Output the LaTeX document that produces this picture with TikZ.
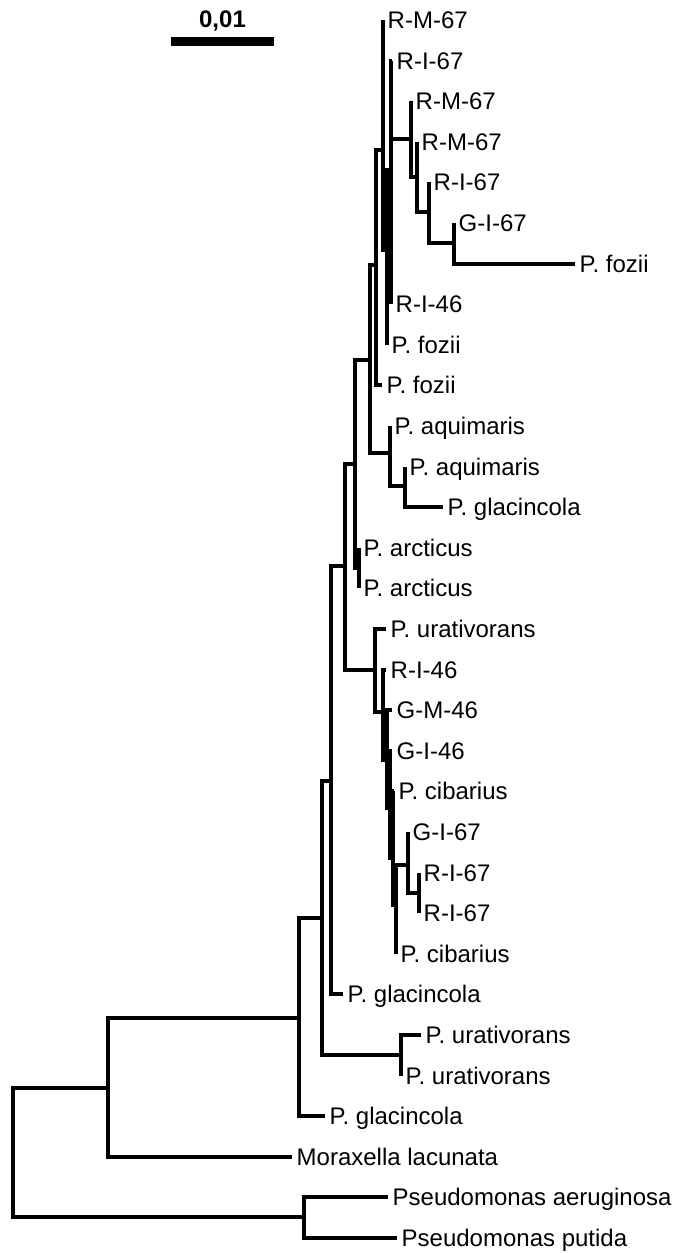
\documentclass[tikz,border=0pt]{standalone}
\usepackage{fontspec}
\setmainfont{Liberation Sans}
\usetikzlibrary{positioning}
\tikzstyle{branch} = [draw, line width=4.8pt]
\tikzstyle{bar} = [draw, line width=9pt]
\tikzstyle{taxon} = [anchor=base west, inner sep=0pt, xshift=4.5pt, yshift=-8.6pt]

\begin{document}
\begin{tikzpicture}[x=1pt, y=-1pt, font=\fontsize{24}{28}\selectfont]
	\useasboundingbox (0,0) rectangle (677,1253);

	% scale
	\coordinate (barL) at (171,41.5);
	\coordinate (barR) at (274,41.5);
	\path [bar] (barL) -- (barR);
	\node [anchor=base, inner sep=0pt, font=\fontsize{24}{28}\selectfont\bfseries] (scale) at (222.5,27) {0,01};

	% tips
	\coordinate (t0) at (383,20);    \node [taxon] (n0) at (t0) {R-M-67};
	\coordinate (t1) at (392,61);    \node [taxon] (n1) at (t1) {R-I-67};
	\coordinate (t2) at (411,101);   \node [taxon] (n2) at (t2) {R-M-67};
	\coordinate (t3) at (417,142);   \node [taxon] (n3) at (t3) {R-M-67};
	\coordinate (t4) at (429,182);   \node [taxon] (n4) at (t4) {R-I-67};
	\coordinate (t5) at (454,223);   \node [taxon] (n5) at (t5) {G-I-67};
	\coordinate (t6) at (575,264);   \node [taxon] (n6) at (t6) {P. fozii};
	\coordinate (t7) at (391,304);   \node [taxon] (n7) at (t7) {R-I-46};
	\coordinate (t8) at (387,345);   \node [taxon] (n8) at (t8) {P. fozii};
	\coordinate (t9) at (382,385);   \node [taxon] (n9) at (t9) {P. fozii};
	\coordinate (t10) at (390,426);  \node [taxon] (n10) at (t10) {P. aquimaris};
	\coordinate (t11) at (405,467);  \node [taxon] (n11) at (t11) {P. aquimaris};
	\coordinate (t12) at (443,507);  \node [taxon] (n12) at (t12) {P. glacincola};
	\coordinate (t13) at (359,548);  \node [taxon] (n13) at (t13) {P. arcticus};
	\coordinate (t14) at (359,588);  \node [taxon] (n14) at (t14) {P. arcticus};
	\coordinate (t15) at (386,629);  \node [taxon] (n15) at (t15) {P. urativorans};
	\coordinate (t16) at (386,670);  \node [taxon] (n16) at (t16) {R-I-46};
	\coordinate (t17) at (392,710);  \node [taxon] (n17) at (t17) {G-M-46};
	\coordinate (t18) at (392,751);  \node [taxon] (n18) at (t18) {G-I-46};
	\coordinate (t19) at (394,791);  \node [taxon] (n19) at (t19) {P. cibarius};
	\coordinate (t20) at (408,832);  \node [taxon] (n20) at (t20) {G-I-67};
	\coordinate (t21) at (419,873);  \node [taxon] (n21) at (t21) {R-I-67};
	\coordinate (t22) at (419,913);  \node [taxon] (n22) at (t22) {R-I-67};
	\coordinate (t23) at (396,954);  \node [taxon] (n23) at (t23) {P. cibarius};
	\coordinate (t24) at (343,994);  \node [taxon] (n24) at (t24) {P. glacincola};
	\coordinate (t25) at (421,1035); \node [taxon] (n25) at (t25) {P. urativorans};
	\coordinate (t26) at (401,1076); \node [taxon] (n26) at (t26) {P. urativorans};
	\coordinate (t27) at (325,1116); \node [taxon] (n27) at (t27) {P. glacincola};
	\coordinate (t28) at (292,1157); \node [taxon] (n28) at (t28) {Moraxella lacunata};
	\coordinate (t29) at (388,1197); \node [taxon] (n29) at (t29) {Pseudomonas aeruginosa};
	\coordinate (t30) at (397,1238); \node [taxon] (n30) at (t30) {Pseudomonas putida};

	% inner nodes
	\coordinate (N6) at (454,243);
	\coordinate (N5) at (429,212);
	\coordinate (N4) at (417,177);
	\coordinate (N3) at (411,139);
	\coordinate (U3) at (391,170);
	\coordinate (U2) at (387,250);
	\coordinate (U1) at (383,150);
	\coordinate (U) at (376,265);
	\coordinate (T) at (405,486);
	\coordinate (S) at (390,453);
	\coordinate (Q) at (370,360);
	\coordinate (R) at (359,568);
	\coordinate (P) at (355,464);
	\coordinate (O) at (419,893);
	\coordinate (N) at (408,865);
	\coordinate (M) at (396,905);
	\coordinate (L) at (393,858);
	\coordinate (K) at (390,808);
	\coordinate (J) at (387,760);
	\coordinate (I) at (383,712);
	\coordinate (H) at (375,670);
	\coordinate (G) at (345,566);
	\coordinate (F) at (331,781);
	\coordinate (D) at (401,1055);
	\coordinate (C) at (322,918);
	\coordinate (B) at (299,1018);
	\coordinate (A) at (108,1088);
	\coordinate (E) at (304,1217);
	\coordinate (root) at (13,1152);

	\foreach \p/\c in {N6/t5, N6/t6, N5/t4, N5/N6, N4/t3, N4/N5, N3/t2, N3/N4,
		U3/t1, U3/N3, U3/t7, U2/U3, U2/t8, U1/t0, U1/U2, U/U1, U/t9,
		T/t11, T/t12, S/t10, S/T, Q/U, Q/S, R/t13, R/t14, P/Q, P/R,
		O/t21, O/t22, N/t20, N/O, M/N, M/t23, L/t19, L/M, K/t18, K/L,
		J/t17, J/K, I/t16, I/J, H/t15, H/I, G/P, G/H, F/G, F/t24,
		D/t25, D/t26, C/F, C/D, B/C, B/t27, A/B, A/t28, E/t29, E/t30,
		root/A, root/E}
		\path [branch] (\p) |- (\c);
\end{tikzpicture}
\end{document}
